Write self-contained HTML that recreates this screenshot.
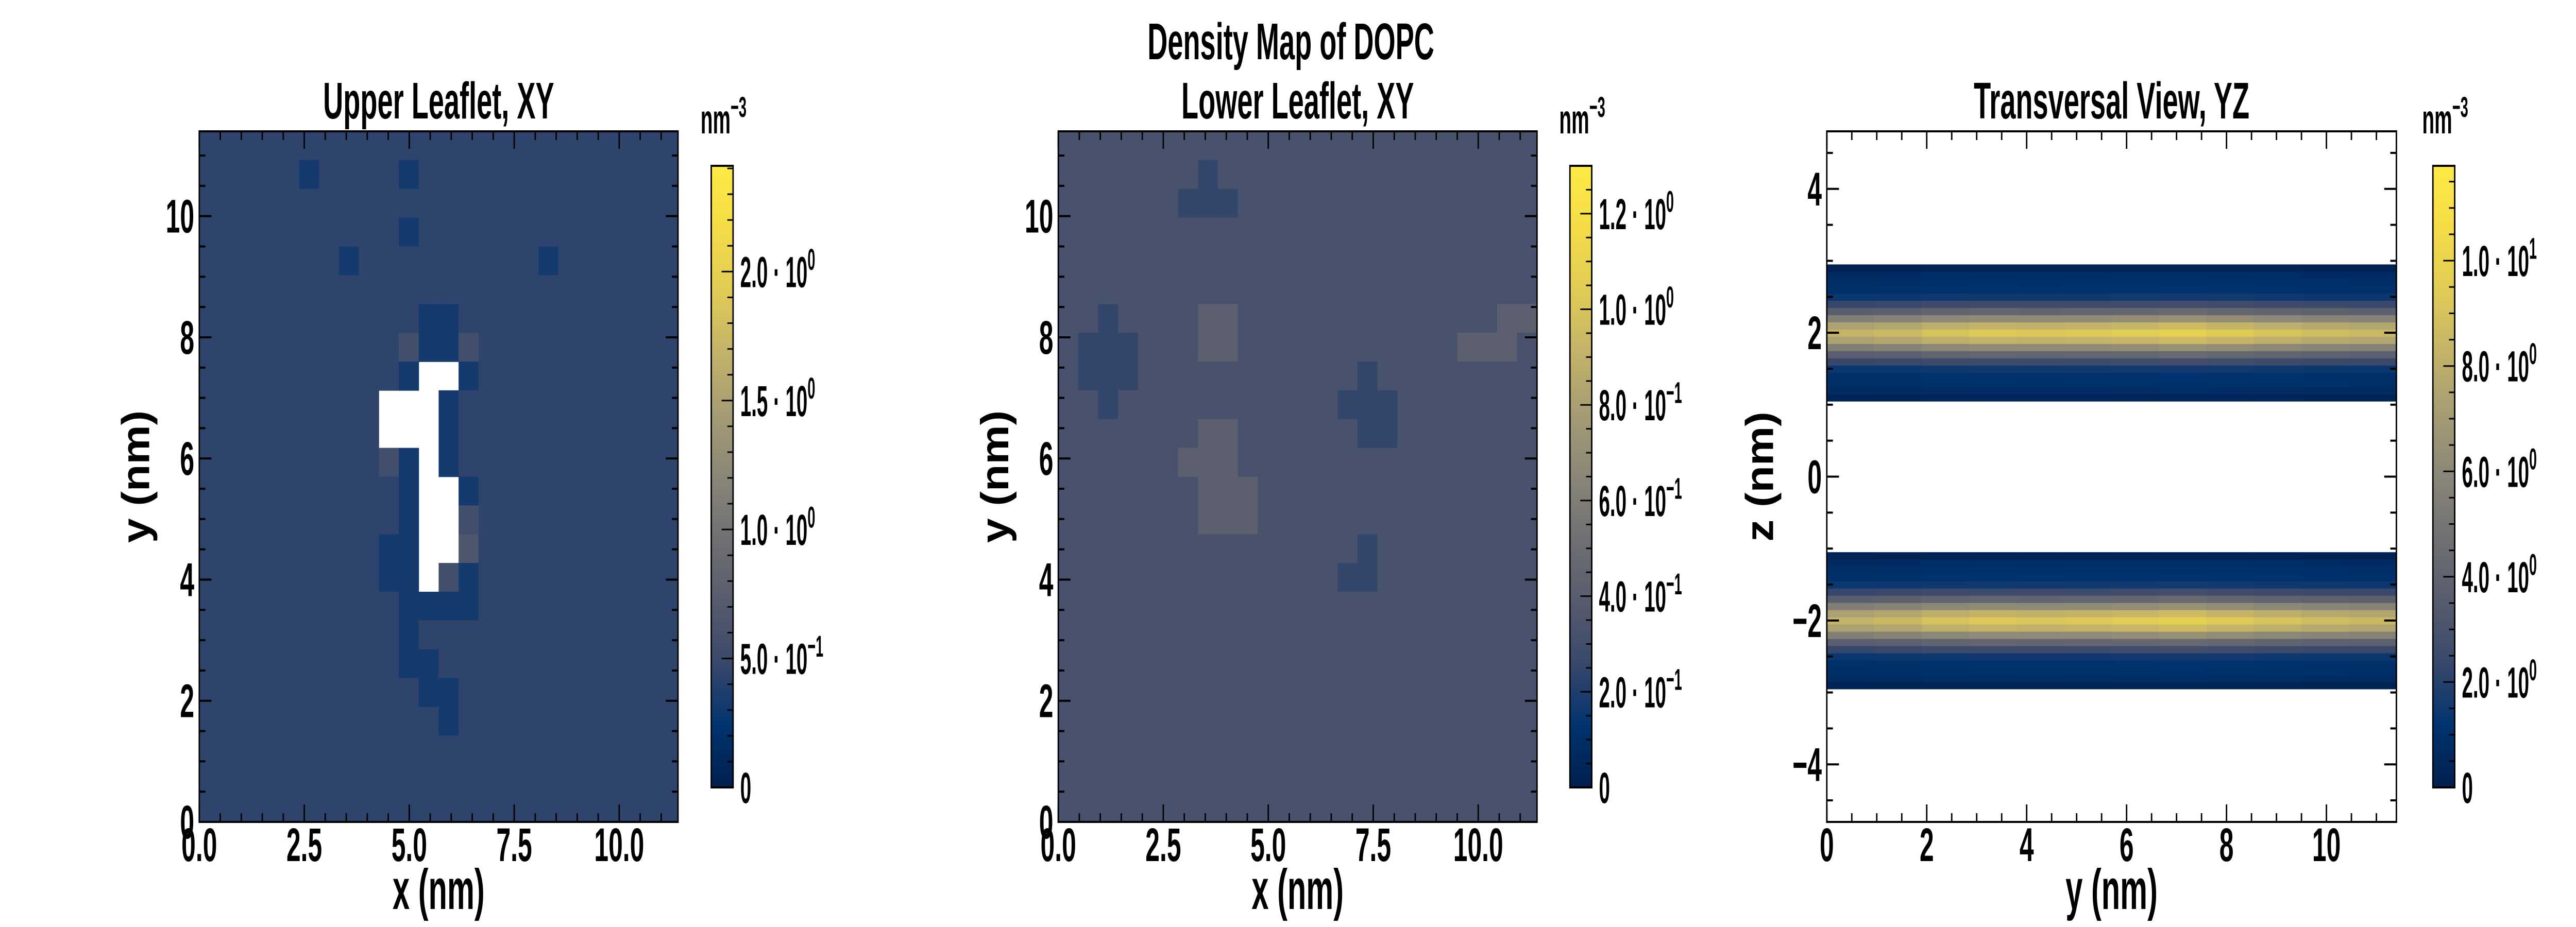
<!DOCTYPE html>
<html><head><meta charset="utf-8"><style>
html,body{margin:0;padding:0;background:#fff;width:100%;height:100%;overflow:hidden;}
svg{display:block;width:100vw;height:100vh;}
text{font-family:"Liberation Sans Narrow","Liberation Sans",sans-serif;font-weight:bold;fill:#000;}
</style></head><body>
<svg id="chart" viewBox="0 0 7200 1800" preserveAspectRatio="none" xmlns="http://www.w3.org/2000/svg" style="overflow:hidden">
<defs>
<linearGradient id="cmap" x1="0" y1="1" x2="0" y2="0">
<stop offset="0" stop-color="#00204d"/><stop offset="0.1" stop-color="#00336f"/><stop offset="0.2" stop-color="#39486b"/><stop offset="0.3" stop-color="#575c6d"/><stop offset="0.4" stop-color="#707073"/><stop offset="0.5" stop-color="#8a8678"/><stop offset="0.6" stop-color="#a59c74"/><stop offset="0.7" stop-color="#c3b369"/><stop offset="0.8" stop-color="#e1cc55"/><stop offset="0.9" stop-color="#f5dc47"/><stop offset="1" stop-color="#ffea46"/>
</linearGradient>
</defs>
</svg>
<script>
// ---- data ----
const upperRows = [
"444444444444444444444444",
"444443444434444444444444",
"444444444444444444444444",
"444444444434444444444444",
"444444434444444443444444",
"444444444444444444444444",
"444444444443344444444444",
"444444444453354444444444",
"44444444443..34444444444",
"444444444...344444444444",
"444444444...344444444444",
"44444444453.344444444444",
"44444444443..34444444444",
"44444444443..54444444444",
"44444444433..64444444444",
"44444444433.534444444444",
"444444444433334444444444",
"444444444434444444444444",
"444444444433444444444444",
"444444444443344444444444",
"444444444444344444444444",
"444444444444444444444444",
"444444444444444444444444",
"444444444444444444444444"];
const lowerRows = [
"444444444444444444444444",
"444444434444444444444444",
"444444333444444444444444",
"444444444444444444444444",
"444444444444444444444444",
"444444444444444444444444",
"443444455444444444444455",
"433344455444444444445554",
"433344444444444344444444",
"443444444444443334444444",
"444444455444444334444444",
"444444555444444444444444",
"444444455544444444444444",
"444444455544444444444444",
"444444444444444344444444",
"444444444444443344444444",
"444444444444444444444444",
"444444444444444444444444",
"444444444444444444444444",
"444444444444444444444444",
"444444444444444444444444",
"444444444444444444444444",
"444444444444444444444444",
"444444444444444444444444"];
const upperDigitScale = 0.11;   // nm^-3 per digit
const lowerDigitScale = 0.082;
const bandCenters = [2.0, -2.0];
const bandProfile = [0.3,0.8,1.0,1.1,1.5,2.5,4.0,6.0,8.0,9.0,8.0,6.0,4.0,2.5,1.5,1.1,1.0,0.8,0.3];
const bandOffsets = [-0.9,-0.8,-0.7,-0.6,-0.5,-0.4,-0.3,-0.2,-0.1,0,0.1,0.2,0.3,0.4,0.5,0.6,0.7,0.8,0.9];
const yModulation = [0.92,0.95,1.0,1.03,1.02,1.03,1.05,1.08,1.04,1.0,0.97,0.95];
const cbTicks1 = [0,0.5,1.0,1.5,2.0];
const cbLabels1 = ["0","5.0 · 10|−1","1.0 · 10|0","1.5 · 10|0","2.0 · 10|0"];
const cbTicks2 = [0,0.2,0.4,0.6,0.8,1.0,1.2];
const cbLabels2 = ["0","2.0 · 10|−1","4.0 · 10|−1","6.0 · 10|−1","8.0 · 10|−1","1.0 · 10|0","1.2 · 10|0"];
const cbTicks3 = [0,2,4,6,8,10];
const cbLabels3 = ["0","2.0 · 10|0","4.0 · 10|0","6.0 · 10|0","8.0 · 10|0","1.0 · 10|1"];
const xTicksXY = [0,2.5,5.0,7.5,10.0];
const xTickLabelsXY = ["0.0","2.5","5.0","7.5","10.0"];
const yTicksXY = [0,2,4,6,8,10];
const xTicksYZ = [0,2,4,6,8,10];
const yTicksYZ = [-4,-2,0,2,4];
const yTickLabelsYZ = ["−4","−2","0","2","4"];

// ---- helpers ----
const svg = document.getElementById('chart');
const NS = 'http://www.w3.org/2000/svg';
const stops = [[0,0,32,77],[0.1,0,51,111],[0.2,57,72,107],[0.3,87,92,109],[0.4,112,112,115],[0.5,138,134,120],[0.6,165,156,116],[0.7,195,179,105],[0.8,225,204,85],[0.9,245,220,71],[1,255,234,70]];
function cividis(t){t=Math.max(0,Math.min(1,t));for(let i=1;i<stops.length;i++){if(t<=stops[i][0]){const a=stops[i-1],b=stops[i],f=(t-a[0])/(b[0]-a[0]);return 'rgb('+[1,2,3].map(k=>Math.round(a[k]+f*(b[k]-a[k]))).join(',')+')';}}return 'rgb(255,234,70)';}
function mk(tag,attrs,parent){const e=document.createElementNS(NS,tag);for(const k in attrs)e.setAttribute(k,attrs[k]);(parent||svg).appendChild(e);return e;}
function txt(x,y,s,size,anchor,parent,sx){const g=mk('g',{transform:'translate('+x+','+y+') scale('+(sx||0.78)+',1)'},parent);const t=mk('text',{x:0,y:0,'font-size':size,'text-anchor':anchor||'middle'},g);
 if(s.indexOf('|')>=0){const p=s.split('|');t.appendChild(document.createTextNode(p[0]));const sp=mk('tspan',{dy:-size*0.4,'font-size':size*0.7},t);sp.textContent=p[1];}else t.textContent=s;return t;}

const panels = [
 {x0:557,x1:1895,y0:255,y1:1596,xmin:0,xmax:11.4,ymin:0,ymax:11.4,cbx:1988,vmax:2.41,title:'Upper Leaflet, XY',xl:'x (nm)',yl:'y (nm)'},
 {x0:2958,x1:4296,y0:255,y1:1596,xmin:0,xmax:11.4,ymin:0,ymax:11.4,cbx:4388,vmax:1.30,title:'Lower Leaflet, XY',xl:'x (nm)',yl:'y (nm)'},
 {x0:5106,x1:6698,y0:255,y1:1596,xmin:0,xmax:11.4,ymin:-4.8,ymax:4.8,cbx:6800,vmax:11.8,title:'Transversal View, YZ',xl:'y (nm)',yl:'z (nm)'}];
function sx(p,v){return p.x0+(v-p.xmin)/(p.xmax-p.xmin)*(p.x1-p.x0);}
function sy(p,v){return p.y1-(v-p.ymin)/(p.ymax-p.ymin)*(p.y1-p.y0);}

// ---- heatmaps XY ----
function gridMap(p,rows,scale,name){
 const g=mk('g',{});
 
 
 const nr=rows.length,nc=rows[0].length;
 rows.forEach((row,ri)=>{for(let ci=0;ci<nc;ci++){const ch=row[ci];if(ch==='.')continue;
  const v=parseInt(ch)*scale;
  const xa=p.xmin+ci*(p.xmax-p.xmin)/nc, xb=p.xmin+(ci+1)*(p.xmax-p.xmin)/nc;
  const yb=p.ymax-ri*(p.ymax-p.ymin)/nr, ya=p.ymax-(ri+1)*(p.ymax-p.ymin)/nr;
  const r=mk('rect',{x:sx(p,xa),y:sy(p,yb),width:sx(p,xb)-sx(p,xa)+0.8,height:sy(p,ya)-sy(p,yb)+0.8,fill:cividis(v/p.vmax)},g);
  
  
 }});
}
gridMap(panels[0],upperRows,upperDigitScale,'upper-leaflet-heatmap');
gridMap(panels[1],lowerRows,lowerDigitScale,'lower-leaflet-heatmap');

// ---- YZ bands ----
(function(){const p=panels[2];const g=mk('g',{});
 
 
 const nseg=yModulation.length;
 bandCenters.forEach(c=>{bandOffsets.forEach((d,i)=>{yModulation.forEach((m,j)=>{
  const v=bandProfile[i]*m;const za=c+d-0.05,zb=c+d+0.05;
  const ya=p.xmin+j*(p.xmax-p.xmin)/nseg,yb=p.xmin+(j+1)*(p.xmax-p.xmin)/nseg;
  const r=mk('rect',{x:sx(p,ya),y:sy(p,zb),width:sx(p,yb)-sx(p,ya)+0.8,height:sy(p,za)-sy(p,zb)+0.8,fill:cividis(v/p.vmax)},g);
  
  
 });});});
})();

// ---- axes ----
function axes(p,xt,xtl,yt,ytl,minorX,minorY,name){
 const g=mk('g',{stroke:'#000','stroke-width':4,fill:'none'});
 
 
 mk('rect',{x:p.x0,y:p.y0,width:p.x1-p.x0,height:p.y1-p.y0},g);
 for(let v=Math.ceil(p.xmin/minorX)*minorX;v<=p.xmax+1e-9;v+=minorX){const X=sx(p,v);const maj=xt.some(t=>Math.abs(t-v)<1e-6);const L=maj?34:17;
  mk('line',{x1:X,y1:p.y1,x2:X,y2:p.y1-L},g);mk('line',{x1:X,y1:p.y0,x2:X,y2:p.y0+L},g);}
 for(let v=Math.ceil(p.ymin/minorY)*minorY;v<=p.ymax+1e-9;v+=minorY){const Y=sy(p,v);const maj=yt.some(t=>Math.abs(t-v)<1e-6);const L=maj?34:17;
  mk('line',{x1:p.x0,y1:Y,x2:p.x0+L,y2:Y},g);mk('line',{x1:p.x1,y1:Y,x2:p.x1-L,y2:Y},g);}
 xt.forEach((v,i)=>{const t=txt(sx(p,v),1672,xtl[i],92,'middle');});
 yt.forEach((v,i)=>{const t=txt(p.x0-14,sy(p,v)+32,ytl[i],92,'end');});
 const tt=txt((p.x0+p.x1)/2,230,p.title,100,'middle');
 const xl=txt((p.x0+p.x1)/2,1765,p.xl,110,'middle');
 const yg=mk('g',{transform:'translate('+(p.x0-(p===panels[2]?150:140))+','+((p.y0+p.y1)/2)+') rotate(-90)'});
 const yl=txt(0,0,p.yl,110,'middle',yg);
}
axes(panels[0],xTicksXY,xTickLabelsXY,yTicksXY,yTicksXY.map(String),0.5,0.5,'upper-leaflet-axes');
axes(panels[1],xTicksXY,xTickLabelsXY,yTicksXY,yTicksXY.map(String),0.5,0.5,'lower-leaflet-axes');
axes(panels[2],xTicksYZ,xTicksYZ.map(String),yTicksYZ,yTickLabelsYZ,0.5,0.5,'transversal-axes');

// ---- colorbars ----
function colorbar(p,ticks,labels,minor,name){
 const top=322,bot=1529,w=61,x=p.cbx;const cy=v=>bot-v/p.vmax*(bot-top);
 const g=mk('g',{});
 
 
 mk('rect',{x:x,y:top,width:w,height:bot-top,fill:'url(#cmap)',stroke:'#000','stroke-width':4},g);
 for(let v=0;v<=p.vmax+1e-9;v+=minor){const Y=cy(v);const maj=ticks.some(t=>Math.abs(t-v)<1e-6);
  mk('line',{x1:x+w,y1:Y,x2:x+w-(maj?32:16),y2:Y,stroke:'#000','stroke-width':3},g);}
 ticks.forEach((v,i)=>{const t=txt(x+w+20,cy(v)+30,labels[i],84,'start',g,0.66);});
 const u=txt(x-30,259,'nm|−3',80,'start',g,0.7);
}
colorbar(panels[0],cbTicks1,cbLabels1,0.1,'upper-colorbar');
colorbar(panels[1],cbTicks2,cbLabels2,0.05,'lower-colorbar');
colorbar(panels[2],cbTicks3,cbLabels3,0.5,'transversal-colorbar');

const st=txt(3608,115,'Density Map of DOPC',100,'middle');


</script>
</body></html>
